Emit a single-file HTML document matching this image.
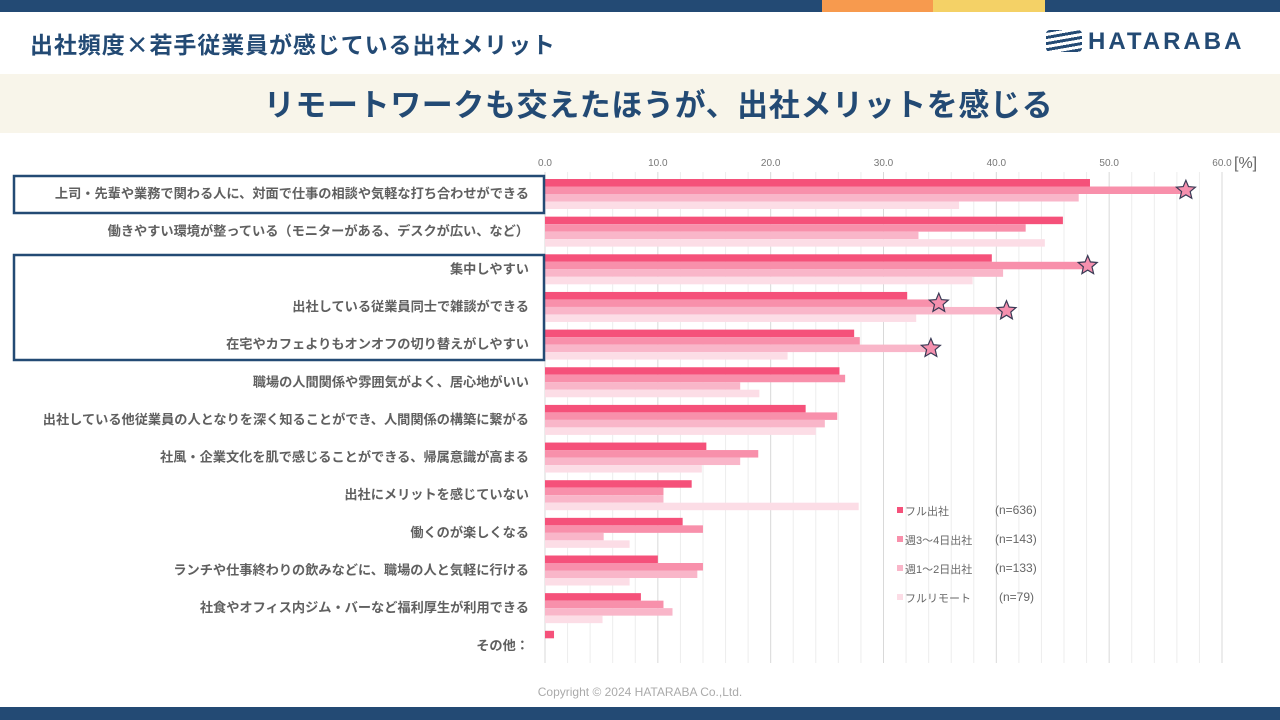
<!DOCTYPE html>
<html><head><meta charset="utf-8">
<style>
body{margin:0;width:1280px;height:720px;overflow:hidden;background:#fff;font-family:"Liberation Sans","Noto Sans CJK JP",sans-serif;position:relative}
.abs{position:absolute}
</style></head><body>
<div class="abs" style="left:0;top:0;width:1280px;height:12px;background:#234a74"></div>
<div class="abs" style="left:822px;top:0;width:111px;height:12px;background:#f79a4e"></div>
<div class="abs" style="left:933px;top:0;width:112px;height:12px;background:#f4d166"></div>
<div class="abs" style="left:30px;top:26px;font-size:23px;font-weight:bold;color:#234a74;letter-spacing:0.9px">出社頻度<span style="font-family:'Noto Sans CJK JP',sans-serif">×</span>若手従業員が感じている出社メリット</div>
<div class="abs" style="left:1046px;top:28px;font-size:24px;font-weight:bold;color:#234a74;letter-spacing:3px"><span style="display:inline-block;width:36px;height:22px;vertical-align:-3px;margin-right:6px;background:repeating-linear-gradient(170deg,#234a74 0 3px,#fff 3px 6px);border-radius:4px"></span>HATARABA</div>
<div class="abs" style="left:0;top:74px;width:1280px;height:59px;background:#f8f5ea"></div>
<div class="abs" style="left:0;top:80px;width:1317px;text-align:center;font-size:31px;font-weight:bold;color:#234a74;letter-spacing:0.6px">リモートワークも交えたほうが、出社メリットを感じる</div>
<svg class="abs" style="left:0;top:0" width="1280" height="720" id="chart"></svg>
<div class="abs" style="left:0;top:685px;width:1280px;text-align:center;font-size:12px;color:#aaa">Copyright © 2024 HATARABA Co.,Ltd.</div>
<div class="abs" style="left:0;top:707px;width:1280px;height:13px;background:#234a74"></div>
<script>
const categories=["上司・先輩や業務で関わる人に、対面で仕事の相談や気軽な打ち合わせができる","働きやすい環境が整っている（モニターがある、デスクが広い、など）","集中しやすい","出社している従業員同士で雑談ができる","在宅やカフェよりもオンオフの切り替えがしやすい","職場の人間関係や雰囲気がよく、居心地がいい","出社している他従業員の人となりを深く知ることができ、人間関係の構築に繋がる","社風・企業文化を肌で感じることができる、帰属意識が高まる","出社にメリットを感じていない","働くのが楽しくなる","ランチや仕事終わりの飲みなどに、職場の人と気軽に行ける","社食やオフィス内ジム・バーなど福利厚生が利用できる","その他："];
const seriesNames=["フル出社","週3～4日出社","週1～2日出社","フルリモート"];
const seriesN=["(n=636)","(n=143)","(n=133)","(n=79)"];
const full=[48.3,45.9,39.6,32.1,27.4,26.1,23.1,14.3,13.0,12.2,10.0,8.5,0.8];
const w34=[56.8,42.6,48.1,34.9,27.9,26.6,25.9,18.9,10.5,14.0,14.0,10.5,0];
const w12=[47.3,33.1,40.6,40.9,34.2,17.3,24.8,17.3,10.5,5.2,13.5,11.3,0];
const remote=[36.7,44.3,37.9,32.9,21.5,19.0,24.0,13.9,27.8,7.5,7.5,5.1,0];
const ticks=[0,10,20,30,40,50,60];
const stars=[[0,1],[2,1],[3,1],[3,2],[4,2]];
const colors=["#f5517a","#f890ab","#f9b6c9","#fcdde6"];
const series=[full,w34,w12,remote];
const X0=545,X1=1222,MAX=60;
const x=v=>X0+(X1-X0)*v/MAX;
const rowY=i=>179+i*37.65;
const BH=7.5;
const svg=document.getElementById('chart');
const NS="http://www.w3.org/2000/svg";
function mk(t,a){const e=document.createElementNS(NS,t);for(const k in a)e.setAttribute(k,a[k]);svg.appendChild(e);return e;}
for(let v=0;v<=MAX;v+=2){const g=mk('line',{x1:x(v),x2:x(v),y1:172,y2:663,stroke:v%10==0?'#d9d9d9':'#ededed','stroke-width':1});

}
ticks.forEach(t=>{const e=mk('text',{x:x(t),y:166,'font-size':10,fill:'#777','text-anchor':'middle'});e.textContent=t.toFixed(1);

});
const u=mk('text',{x:1234,y:168,'font-size':16,fill:'#666'});u.textContent='[%]';


categories.forEach((c,i)=>{const e=mk('text',{x:529,y:rowY(i)+19,'font-size':13.2,fill:'#606060','font-weight':'bold','text-anchor':'end'});e.textContent=c;


series.forEach((s,j)=>{if(s[i]<=0)return;const r=mk('rect',{x:X0,y:rowY(i)+j*BH,width:x(s[i])-X0,height:BH,fill:colors[j]});

});});
function starPath(cx,cy,R){let p=[];for(let k=0;k<10;k++){const a=-Math.PI/2+k*Math.PI/5,r=k%2?R*0.45:R;p.push((cx+r*Math.cos(a)).toFixed(1)+','+(cy+r*Math.sin(a)).toFixed(1));}return p.join(' ');}
stars.forEach(([i,j])=>{const s=mk('polygon',{points:starPath(x(series[j][i]),rowY(i)+j*BH+BH/2,10),fill:'#f590ae',stroke:'#3a3a55','stroke-width':1.2});

});
const b1=mk('rect',{x:14,y:176,width:530,height:37,fill:'none',stroke:'#234a74','stroke-width':2.5});


const b2=mk('rect',{x:14,y:255,width:530,height:105,fill:'none',stroke:'#234a74','stroke-width':2.5});


seriesNames.forEach((n,j)=>{const y=511+j*29;
const sq=mk('rect',{x:897,y:y-4,width:6,height:6,fill:colors[j]});


const t=mk('text',{x:905,y:y+4,'font-size':11,fill:'#666'});t.textContent=n;


const t2=mk('text',{x:j==3?999:995,y:y+3,'font-size':12,fill:'#666'});t2.textContent=seriesN[j];

});
</script>
</body></html>
